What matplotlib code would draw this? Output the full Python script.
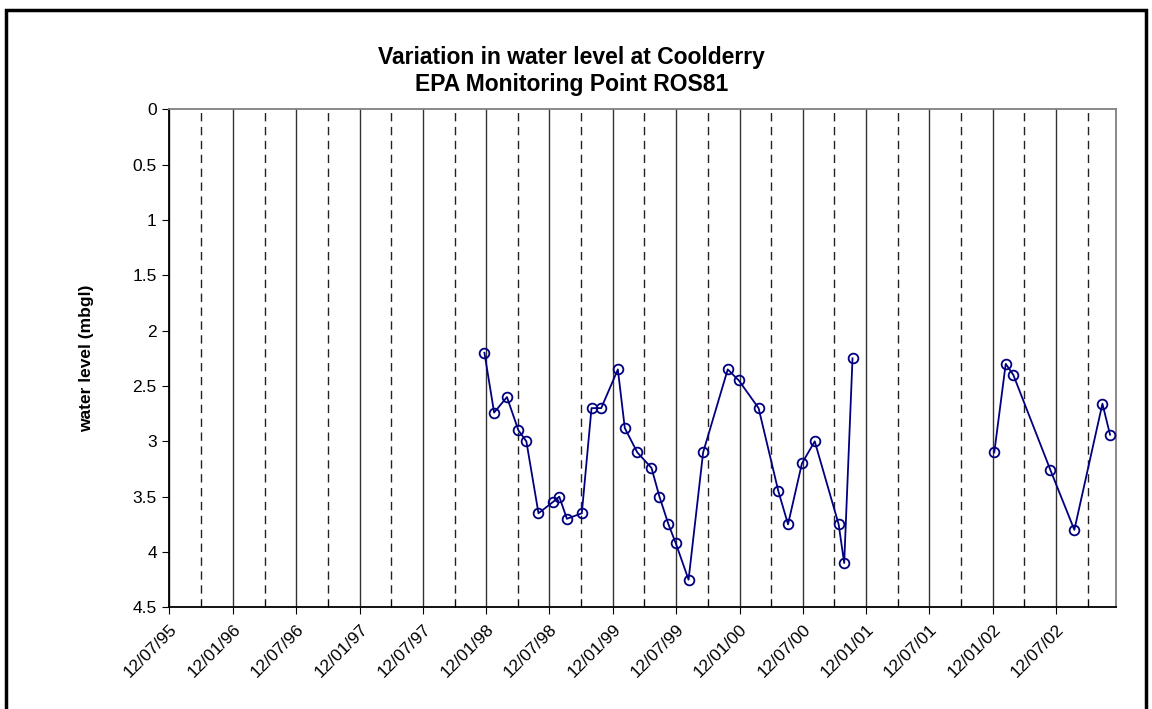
import numpy as np
import matplotlib.pyplot as plt
import matplotlib.dates as mdates
import matplotlib.ticker as mticker
from matplotlib.patches import Rectangle

plt.rcParams['font.family'] = ['Liberation Sans', 'DejaVu Sans']

# sample dates and water level below ground (m)
dates = [
    '1998-01-06', '1998-02-03', '1998-03-12', '1998-04-14', '1998-05-07',
    '1998-06-11', '1998-07-22', '1998-08-10', '1998-09-01', '1998-10-14',
    '1998-11-11', '1998-12-09', '1999-01-26', '1999-02-15', '1999-03-23',
    '1999-05-03', '1999-05-26', '1999-06-21', '1999-07-12', '1999-08-18',
    '1999-09-29', '1999-12-09', '2000-01-10', '2000-03-07', '2000-05-03',
    '2000-05-31', '2000-07-10', '2000-08-16', '2000-10-24', '2000-11-09',
    '2000-12-03',
    '2001-07-01',  # gap in record
    '2002-01-16', '2002-02-18', '2002-03-12', '2002-06-27', '2002-09-04',
    '2002-11-24', '2002-12-16',
]
levels = [
    2.20, 2.74, 2.60, 2.90, 3.00,
    3.65, 3.55, 3.50, 3.70, 3.65,
    2.70, 2.70, 2.35, 2.88, 3.10,
    3.24, 3.50, 3.75, 3.92, 4.25,
    3.10, 2.35, 2.45, 2.70, 3.45,
    3.75, 3.20, 3.00, 3.75, 4.10,
    2.25,
    np.nan,
    3.10, 2.30, 2.40, 3.26, 3.80,
    2.66, 2.94,
]
x_start = '1995-07-12'
x_end = '2003-01-02'
y_ticks = [0, 0.5, 1, 1.5, 2, 2.5, 3, 3.5, 4, 4.5]

x = np.array(dates, dtype='datetime64[D]')
y = np.array(levels)

fig = plt.figure(figsize=(11.52, 7.09), dpi=100)
ax = fig.add_axes([0.147, 0.1434, 0.8217, 0.7024])

# chart border
fig.patches.append(Rectangle((6 / 1152, -0.05), 1140 / 1152, 1.05 - 10 / 709,
                             transform=fig.transFigure, fill=False,
                             edgecolor='black', linewidth=2.5))

ax.plot(x, y, color='#000080', linewidth=1.3, marker='o', markersize=7,
        markerfacecolor='none', markeredgecolor='#000080', markeredgewidth=1.3,
        zorder=3)

ax.set_xlim(np.datetime64(x_start), np.datetime64(x_end))
ax.set_ylim(4.5, 0)
ax.set_yticks(y_ticks)
ax.yaxis.set_major_formatter(mticker.FormatStrFormatter('%g'))

ax.xaxis.set_major_locator(mdates.MonthLocator(bymonth=(1, 7), bymonthday=12))
ax.xaxis.set_minor_locator(mdates.MonthLocator(bymonth=(4, 10), bymonthday=12))
ax.xaxis.set_major_formatter(mdates.DateFormatter('%d/%m/%y'))

ax.grid(True, axis='x', which='major', color='#333333', linewidth=1.0, linestyle='-')
ax.grid(True, axis='x', which='minor', color='#222222', linewidth=1.0,
        linestyle=(0, (6, 4)))

ax.tick_params(axis='x', which='major', direction='out', length=5, labelsize=12.5,
               labelrotation=45, pad=5)
ax.tick_params(axis='x', which='minor', direction='in', length=5)
ax.tick_params(axis='y', direction='out', length=5, labelsize=12.5, pad=4)
for lbl in ax.get_xticklabels():
    lbl.set_ha('right')
    lbl.set_rotation_mode('anchor')

for side in ('left', 'bottom'):
    ax.spines[side].set_color('black')
    ax.spines[side].set_linewidth(1.3)
for side in ('top', 'right'):
    ax.spines[side].set_color('#808080')
    ax.spines[side].set_linewidth(1.3)

ax.set_ylabel('water level (mbgl)', fontsize=12.5, fontweight='bold', labelpad=28)
fig.text(0.496, 0.9, 'Variation in water level at Coolderry\nEPA Monitoring Point ROS81',
         ha='center', va='center', fontsize=16.5, fontweight='bold', linespacing=1.25)

fig.savefig('out.png', dpi=100)
